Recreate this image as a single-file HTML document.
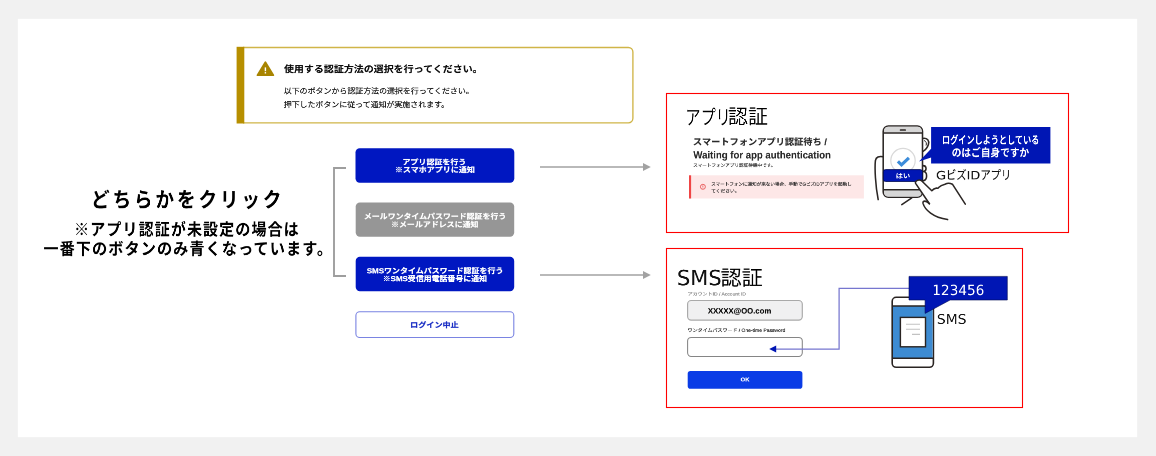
<!DOCTYPE html>
<html lang="ja">
<head>
<meta charset="utf-8">
<title>認証方法の選択</title>
<style>
*{box-sizing:border-box;margin:0;padding:0}
html,body{width:1156px;height:456px;overflow:hidden;background:#f1f1f1}
body{position:relative;font-family:"Liberation Sans","Noto Sans CJK JP",sans-serif;color:#000}
#art{position:absolute;left:0;top:0;width:1156px;height:456px}
.t{position:absolute;left:0;top:0;white-space:nowrap;line-height:1;transform-origin:0 0;text-rendering:geometricPrecision}
.k{display:inline-block;transform-origin:0 50%;white-space:nowrap}
</style>
</head>
<body>
<svg id="art" width="1156" height="456" viewBox="0 0 1156 456">
  <!-- white card -->
  <rect x="17.8" y="18.8" width="1119.4" height="418.4" fill="#fff"/>

  <!-- warning alert -->
  <path d="M243 47.5 H628.4 A4.5 4.5 0 0 1 632.9 52 V118.3 A4.5 4.5 0 0 1 628.4 122.8 H243" fill="#fff" stroke="#d0b548" stroke-width="1.35"/>
  <rect x="236.6" y="46.8" width="7.7" height="76.7" fill="#b78f00"/>
  <path d="M265.4 62.3 L273.3 75.2 H257.5 Z" fill="#a88400" stroke="#a88400" stroke-width="1.8" stroke-linejoin="round"/>
  <rect x="264.7" y="67.4" width="1.4" height="3.8" fill="#fff"/>
  <rect x="264.7" y="72.1" width="1.4" height="1.4" fill="#fff"/>

  <!-- bracket + arrows -->
  <path d="M346 168 H334 V276 H346" fill="none" stroke="#9e9e9e" stroke-width="1.9"/>
  <path d="M540 167 H644" fill="none" stroke="#a2a2a2" stroke-width="1.7"/>
  <path d="M643 163 L650.8 167 L643 171 Z" fill="#a2a2a2"/>
  <path d="M540 275 H644" fill="none" stroke="#a2a2a2" stroke-width="1.7"/>
  <path d="M643 271 L650.8 275 L643 279 Z" fill="#a2a2a2"/>

  <!-- buttons -->
  <rect x="355.5" y="148.2" width="158.8" height="34.5" rx="4.2" fill="#0017c1"/>
  <rect x="355.7" y="202.4" width="158.5" height="34.4" rx="4.2" fill="#969696"/>
  <rect x="355.7" y="256.7" width="158.5" height="34.6" rx="4.2" fill="#0017c1"/>
  <rect x="355.9" y="311.7" width="157.9" height="25.8" rx="3.8" fill="#fff" stroke="#7a84e2" stroke-width="1.1"/>

  <!-- app authentication panel -->
  <rect x="666.5" y="93.5" width="402" height="139" fill="#fff" stroke="#ff0000" stroke-width="1.1"/>
  <rect x="689" y="175.3" width="174.9" height="23.2" fill="#fde7e7"/>
  <rect x="689" y="175.3" width="2.1" height="23.2" fill="#ef4545"/>
  <circle cx="702.9" cy="186.8" r="2.5" fill="none" stroke="#e54646" stroke-width="0.8"/>
  <rect x="702.55" y="185.3" width="0.7" height="1.8" fill="#e54646"/>
  <rect x="702.55" y="187.6" width="0.7" height="0.7" fill="#e54646"/>

  <!-- phone held in hand -->
  <g fill="none" stroke="#2b2624" stroke-width="1.55" stroke-linecap="round" stroke-linejoin="round">
    <path d="M883.2 156.8 C879 156 876 157 875.4 160.6 C874.6 168 875.4 186 878.2 199.6"/>
    <path d="M922.8 138.4 C927.4 137.8 929.6 140.8 928.4 144.6 C927.4 147.8 925.4 150.2 923 151.4"/>
    <path d="M924.4 140.6 C926.4 141.4 926.8 143.4 926.2 145.2" stroke-width="1"/>
    <path d="M923 165.6 C926.8 165.6 927.2 170.6 923.4 171.6 C927.6 172 927.8 179.6 923.2 180.8"/>
    <rect x="883.2" y="126" width="39.3" height="71.2" rx="5.2" ry="5.2" fill="#fff"/>
  </g>
  <path d="M884 132.6 V130.8 A4.3 4.3 0 0 1 888.3 126.7 H917.4 A4.3 4.3 0 0 1 921.7 130.8 V132.6 Z" fill="#d6d6d6"/>
  <path d="M884 190.3 V192.4 A4.3 4.3 0 0 0 888.3 196.5 H917.4 A4.3 4.3 0 0 0 921.7 192.4 V190.3 Z" fill="#d6d6d6"/>
  <path d="M883.2 133 H922.5 M883.2 189.7 H922.5" stroke="#2b2624" stroke-width="1.5" fill="none"/>
  <path d="M900.6 130 H905.2" stroke="#2b2624" stroke-width="1.7" stroke-linecap="round" fill="none"/>
  <circle cx="903" cy="160.6" r="12.2" fill="#fff" stroke="#d9d9d9" stroke-width="1.2"/>
  <path d="M897.9 161.4 L901.5 164.9 L908.9 157.8" fill="none" stroke="#3c8cda" stroke-width="3.2" stroke-linejoin="miter"/>
  <rect x="883.4" y="169.6" width="39" height="11.9" rx="2.2" fill="#0016b4" stroke="#000a50" stroke-width="0.8"/>
  <g fill="none" stroke="#2b2624" stroke-width="1.55" stroke-linecap="round" stroke-linejoin="round">
    <path d="M929.4 203.8 L915.6 183.4 C914.4 181 919.6 178.6 921.8 181 L931.8 190.8 Q933.6 188.6 936.6 188 Q937.8 188.8 938.6 187.6 Q940.8 185.2 945 184.2 Q948.6 182.4 952.4 184.2 L965.3 204.2" fill="#fff"/>
    <path d="M929.4 203.8 C926.6 200.4 922.4 200.2 923 203.4 C925 210 933 217.4 947.6 219.6"/>
    <path d="M911.8 197.8 L901.8 204.6"/>
  </g>
  <path d="M931.1 126.9 H1050.4 V163.5 H931.1 V157.4 L919 161.6 L931.1 148.8 Z" fill="#0016b4"/>

  <!-- SMS authentication panel -->
  <rect x="666.5" y="248.5" width="356" height="159" fill="#fff" stroke="#ff0000" stroke-width="1.1"/>
  <rect x="687.6" y="300.5" width="114.7" height="19.6" rx="3.6" fill="#f0f0f1" stroke="#a9a9a9" stroke-width="1.15"/>
  <rect x="687.6" y="337.4" width="114.7" height="19" rx="3.6" fill="#fff" stroke="#858585" stroke-width="1.05"/>
  <rect x="687.7" y="371" width="114.7" height="17.7" rx="2.8" fill="#0a3ce6"/>
  <path d="M909 288.45 H839.1 V349 H775" fill="none" stroke="#7676cf" stroke-width="1.25"/>
  <path d="M776.2 345.5 L769.2 349 L776.2 352.5 Z" fill="#0016b4"/>
  <!-- sms phone -->
  <rect x="892.2" y="297.3" width="41.2" height="70" rx="4" fill="#fff" stroke="#2a2422" stroke-width="1.6"/>
  <rect x="893" y="306" width="39.6" height="52.3" fill="#3d8bd2"/>
  <path d="M892.2 306 H933.4 M892.2 358.3 H933.4" stroke="#2a2422" stroke-width="1.4" fill="none"/>
  <rect x="900.4" y="317.4" width="25.1" height="29.4" fill="#fff" stroke="#2a2422" stroke-width="1.4"/>
  <path d="M906 324.3 H920 M906 329.3 H920 M912 334.4 H920" stroke="#c2c2c2" stroke-width="1.1" fill="none"/>
  <path d="M909 276.4 H1007.3 V300 H950.1 L925.1 313.4 V300 H909 Z" fill="#0016b4" stroke="#000a50" stroke-width="0.6" stroke-linejoin="miter"/>
</svg>

<!-- text -->
<div class="t" style="font-family:'Liberation Sans','Noto Sans CJK JP',sans-serif;font-size:18.8px;color:#0d0d0d;font-weight:700;-webkit-text-stroke:0.2px #0d0d0d;transform:translate(284.00px,64.83px) scale(0.53103,0.50000) matrix3d(1,0,0,0,0,1,0,0.00001,0,0,1,0,0,0,0,1)">使用する認証方法の選択を行ってください。</div>
<div class="t" style="font-family:'Liberation Sans','Noto Sans CJK JP',sans-serif;font-size:15.4px;color:#202020;-webkit-text-stroke:0.36px #202020;transform:translate(283.74px,87.70px) scale(0.51620,0.50000) matrix3d(1,0,0,0,0,1,0,0.00001,0,0,1,0,0,0,0,1)">以下のボタンから認証方法の選択を行ってください。</div>
<div class="t" style="font-family:'Liberation Sans','Noto Sans CJK JP',sans-serif;font-size:15.4px;color:#202020;-webkit-text-stroke:0.36px #202020;transform:translate(283.74px,101.30px) scale(0.51530,0.50000) matrix3d(1,0,0,0,0,1,0,0.00001,0,0,1,0,0,0,0,1)">押下したボタンに従って通知が実施されます。</div>
<div class="t" style="font-family:'Liberation Sans','Noto Sans CJK JP',sans-serif;font-size:37.2px;color:#000;font-weight:700;letter-spacing:5.6px;transform:translate(91.04px,189.68px) scale(0.50189,0.56500) matrix3d(1,0,0,0,0,1,0,0.00001,0,0,1,0,0,0,0,1)">どちらかをクリック</div>
<div class="t" style="font-family:'Liberation Sans','Noto Sans CJK JP',sans-serif;font-size:30px;color:#000;font-weight:700;letter-spacing:2.2px;transform:translate(74.10px,222.00px) scale(0.50079,0.55500) matrix3d(1,0,0,0,0,1,0,0.00001,0,0,1,0,0,0,0,1)">※アプリ認証が未設定の場合は</div>
<div class="t" style="font-family:'Liberation Sans','Noto Sans CJK JP',sans-serif;font-size:30px;color:#000;font-weight:700;letter-spacing:2.2px;transform:translate(43.40px,241.40px) scale(0.50389,0.55500) matrix3d(1,0,0,0,0,1,0,0.00001,0,0,1,0,0,0,0,1)">一番下のボタンのみ青くなっています。</div>
<div class="t" style="font-family:'Liberation Sans','Noto Sans CJK JP',sans-serif;font-size:14.8px;color:#fff;font-weight:700;-webkit-text-stroke:0.4px #fff;transform:translate(402.49px,159.18px) scale(0.53886,0.50000) matrix3d(1,0,0,0,0,1,0,0.00001,0,0,1,0,0,0,0,1)">アプリ認証を行う</div>
<div class="t" style="font-family:'Liberation Sans','Noto Sans CJK JP',sans-serif;font-size:14.8px;color:#fff;font-weight:700;-webkit-text-stroke:0.4px #fff;transform:translate(394.89px,166.88px) scale(0.54207,0.50000) matrix3d(1,0,0,0,0,1,0,0.00001,0,0,1,0,0,0,0,1)">※スマホアプリに通知</div>
<div class="t" style="font-family:'Liberation Sans','Noto Sans CJK JP',sans-serif;font-size:14.8px;color:#fff;font-weight:700;-webkit-text-stroke:0.4px #fff;transform:translate(363.86px,213.47px) scale(0.53536,0.50000) matrix3d(1,0,0,0,0,1,0,0.00001,0,0,1,0,0,0,0,1)">メールワンタイムパスワード認証を行う</div>
<div class="t" style="font-family:'Liberation Sans','Noto Sans CJK JP',sans-serif;font-size:14.8px;color:#fff;font-weight:700;-webkit-text-stroke:0.4px #fff;transform:translate(391.10px,221.57px) scale(0.53645,0.50000) matrix3d(1,0,0,0,0,1,0,0.00001,0,0,1,0,0,0,0,1)">※メールアドレスに通知</div>
<div class="t" style="font-family:'Liberation Sans','Noto Sans CJK JP',sans-serif;font-size:14.8px;color:#fff;font-weight:700;-webkit-text-stroke:0.4px #fff;transform:translate(366.80px,267.88px) scale(0.53837,0.50000) matrix3d(1,0,0,0,0,1,0,0.00001,0,0,1,0,0,0,0,1)">SMSワンタイムパスワード認証を行う</div>
<div class="t" style="font-family:'Liberation Sans','Noto Sans CJK JP',sans-serif;font-size:14.8px;color:#fff;font-weight:700;-webkit-text-stroke:0.4px #fff;transform:translate(382.70px,275.77px) scale(0.53558,0.50000) matrix3d(1,0,0,0,0,1,0,0.00001,0,0,1,0,0,0,0,1)">※SMS受信用電話番号に通知</div>
<div class="t" style="font-family:'Liberation Sans','Noto Sans CJK JP',sans-serif;font-size:14.8px;color:#1a2ec4;font-weight:700;-webkit-text-stroke:0.4px #1a2ec4;transform:translate(410.18px,322.07px) scale(0.54598,0.50000) matrix3d(1,0,0,0,0,1,0,0.00001,0,0,1,0,0,0,0,1)">ログイン中止</div>
<div class="t" style="font-family:'Liberation Sans','Noto Sans CJK JP',sans-serif;font-size:40.4px;color:#000;font-weight:350;-webkit-text-stroke:0.16px #000;transform:translate(685.53px,107.50px) scale(0.37383,0.50000) matrix3d(1,0,0,0,0,1,0,0.00001,0,0,1,0,0,0,0,1)">アプリ</div>
<div class="t" style="font-family:'Liberation Sans','Noto Sans CJK JP',sans-serif;font-size:40.4px;color:#000;font-weight:350;-webkit-text-stroke:0.16px #000;transform:translate(727.96px,106.75px) scale(0.49359,0.50000) matrix3d(1,0,0,0,0,1,0,0.00001,0,0,1,0,0,0,0,1)">認証</div>
<div class="t" style="font-family:'Liberation Sans','Noto Sans CJK JP',sans-serif;font-size:18px;color:#2a2a2a;font-weight:700;-webkit-text-stroke:0.24px #2a2a2a;transform:translate(692.89px,137.47px) scale(0.51248,0.50000) matrix3d(1,0,0,0,0,1,0,0.00001,0,0,1,0,0,0,0,1)">スマートフォンアプリ認証待ち /</div>
<div class="t" style="font-family:'Liberation Sans','Noto Sans CJK JP',sans-serif;font-size:20.6px;color:#2a2a2a;font-weight:700;-webkit-text-stroke:0.2px #2a2a2a;transform:translate(693.40px,150.43px) scale(0.46520,0.50000) matrix3d(1,0,0,0,0,1,0,0.00001,0,0,1,0,0,0,0,1)">Waiting for app authentication</div>
<div class="t" style="font-family:'Liberation Sans','Noto Sans CJK JP',sans-serif;font-size:8.8px;color:#333;-webkit-text-stroke:0.24px #333;transform:translate(693.14px,163.32px) scale(0.52318,0.50000) matrix3d(1,0,0,0,0,1,0,0.00001,0,0,1,0,0,0,0,1)">スマートフォンアプリ認証待機中です。</div>
<div class="t" style="font-family:'Liberation Sans','Noto Sans CJK JP',sans-serif;font-size:8.8px;color:#222;-webkit-text-stroke:0.24px #222;transform:translate(711.14px,182.12px) scale(0.51948,0.50000) matrix3d(1,0,0,0,0,1,0,0.00001,0,0,1,0,0,0,0,1)">スマートフォンに通知が来ない場合、手動でGビズIDアプリを起動し</div>
<div class="t" style="font-family:'Liberation Sans','Noto Sans CJK JP',sans-serif;font-size:8.8px;color:#222;-webkit-text-stroke:0.24px #222;transform:translate(711.13px,189.03px) scale(0.53978,0.50000) matrix3d(1,0,0,0,0,1,0,0.00001,0,0,1,0,0,0,0,1)">てください。</div>
<div class="t" style="font-family:'Liberation Sans','Noto Sans CJK JP',sans-serif;font-size:13.2px;color:#fff;font-weight:700;transform:translate(895.75px,172.68px) scale(0.54694,0.50000) matrix3d(1,0,0,0,0,1,0,0.00001,0,0,1,0,0,0,0,1)">はい</div>
<div class="t" style="font-family:'Liberation Sans','Noto Sans CJK JP',sans-serif;font-size:21.8px;color:#fff;font-weight:700;transform:translate(941.97px,134.85px) scale(0.37344,0.50000) matrix3d(1,0,0,0,0,1,0,0.00001,0,0,1,0,0,0,0,1)">ログインしようとしている</div>
<div class="t" style="font-family:'Liberation Sans','Noto Sans CJK JP',sans-serif;font-size:21.8px;color:#fff;font-weight:700;transform:translate(951.73px,147.45px) scale(0.44406,0.50000) matrix3d(1,0,0,0,0,1,0,0.00001,0,0,1,0,0,0,0,1)">のはご自身ですか</div>
<div class="t" style="font-family:'Liberation Sans','Noto Sans CJK JP',sans-serif;font-size:24.8px;color:#111;-webkit-text-stroke:0.2px #111;transform:translate(936.05px,169.90px) scale(0.55420,0.50000) matrix3d(1,0,0,0,0,1,0,0.00001,0,0,1,0,0,0,0,1)"><span style="font-family:'DejaVu Sans','Liberation Sans','Noto Sans CJK JP',sans-serif;font-size:.935em">G</span><span class="k" style="width:1.5em;transform:scaleX(.75)">ビズ</span><span style="font-family:'DejaVu Sans','Liberation Sans','Noto Sans CJK JP',sans-serif;font-size:.935em">ID</span><span class="k" style="width:2.25em;transform:scaleX(.75)">アプリ</span></div>
<div class="t" style="font-family:'DejaVu Sans','Liberation Sans','Noto Sans CJK JP',sans-serif;font-size:42px;color:#111;-webkit-text-stroke:0.1px #111;transform:translate(676.95px,267.73px) scale(0.49882,0.50000) matrix3d(1,0,0,0,0,1,0,0.00001,0,0,1,0,0,0,0,1)">SMS</div>
<div class="t" style="font-family:'Liberation Sans','Noto Sans CJK JP',sans-serif;font-size:41.2px;color:#000;font-weight:350;-webkit-text-stroke:0.3px #000;transform:translate(720.63px,268.10px) scale(0.51069,0.50000) matrix3d(1,0,0,0,0,1,0,0.00001,0,0,1,0,0,0,0,1)">認証</div>
<div class="t" style="font-family:'Liberation Sans','Noto Sans CJK JP',sans-serif;font-size:9.2px;color:#858585;-webkit-text-stroke:0.24px #858585;transform:translate(687.66px,292.05px) scale(0.54340,0.50000) matrix3d(1,0,0,0,0,1,0,0.00001,0,0,1,0,0,0,0,1)">アカウントID / Account ID</div>
<div class="t" style="font-family:'Liberation Sans','Noto Sans CJK JP',sans-serif;font-size:15.6px;color:#0a0a0a;font-weight:700;-webkit-text-stroke:0.24px #0a0a0a;transform:translate(707.90px,307.52px) scale(0.49528,0.50000) matrix3d(1,0,0,0,0,1,0,0.00001,0,0,1,0,0,0,0,1)">XXXXX@OO.com</div>
<div class="t" style="font-family:'Liberation Sans','Noto Sans CJK JP',sans-serif;font-size:9.2px;color:#222;-webkit-text-stroke:0.24px #222;transform:translate(687.66px,328.35px) scale(0.54230,0.50000) matrix3d(1,0,0,0,0,1,0,0.00001,0,0,1,0,0,0,0,1)">ワンタイムパスワード / One-time Password</div>
<div class="t" style="font-family:'Liberation Sans','Noto Sans CJK JP',sans-serif;font-size:10.8px;color:#fff;font-weight:700;-webkit-text-stroke:0.3px #fff;transform:translate(740.60px,377.38px) scale(0.54375,0.50000) matrix3d(1,0,0,0,0,1,0,0.00001,0,0,1,0,0,0,0,1)">OK</div>
<div class="t" style="font-family:'DejaVu Sans','Liberation Sans','Noto Sans CJK JP',sans-serif;font-size:28px;color:#fff;transform:translate(932.24px,283.52px) scale(0.48780,0.50000) matrix3d(1,0,0,0,0,1,0,0.00001,0,0,1,0,0,0,0,1)">123456</div>
<div class="t" style="font-family:'DejaVu Sans','Liberation Sans','Noto Sans CJK JP',sans-serif;font-size:26.4px;color:#111;transform:translate(936.81px,313.27px) scale(0.52897,0.50000) matrix3d(1,0,0,0,0,1,0,0.00001,0,0,1,0,0,0,0,1)">SMS</div>
</body>
</html>
